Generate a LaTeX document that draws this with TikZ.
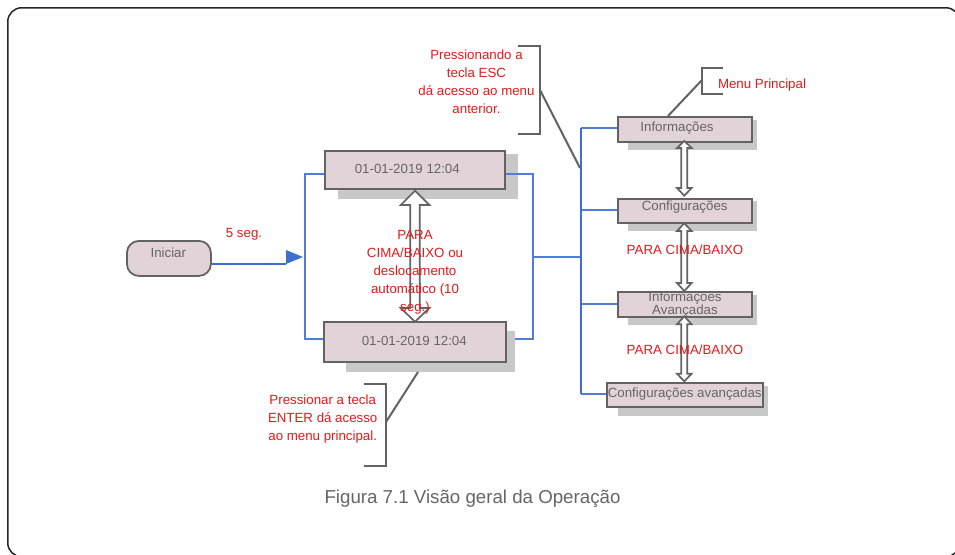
\documentclass[tikz,border=0pt]{standalone}
\usepackage{fontspec}
\setmainfont{Liberation Sans}
\definecolor{boxfill}{HTML}{E2D3D8}
\definecolor{boxline}{HTML}{636363}
\definecolor{shadowgrey}{HTML}{C8C8C8}
\definecolor{bluebus}{HTML}{3E6FD0}
\definecolor{bluethin}{HTML}{4F7DDA}
\definecolor{redtxt}{HTML}{E01B1B}
\definecolor{greytxt}{HTML}{666666}
\tikzset{
  x=1pt,y=-1pt,
  boxnode/.style={draw=boxline,fill=boxfill,line width=2pt,inner sep=0pt},
  shadownode/.style={fill=shadowgrey,inner sep=0pt},
  lbl/.style={text=greytxt,inner sep=0pt,font=\fontsize{13.3}{15}\selectfont},
  note/.style={text=redtxt,inner sep=0pt,align=center,font=\fontsize{13.3}{17.9}\selectfont},
  bus/.style={draw=bluethin,line width=2pt},
  busthick/.style={draw=bluebus,line width=2.6pt},
  leader/.style={draw=boxline,line width=2pt,line cap=butt},
  dblarrow/.style={draw=boxline,fill=white,line width=1.7pt,line join=miter},
}
% #1 centre x, #2 top tip y, #3 top head base y, #4 bottom head base y, #5 bottom tip y, #6 head half width, #7 shaft half width
\newcommand{\hollowarrow}[7]{%
  \draw[dblarrow] (#1,#2) -- (#1+#6,#3) -- (#1+#7,#3) -- (#1+#7,#4) -- (#1+#6,#4) -- (#1,#5) -- (#1-#6,#4) -- (#1-#7,#4) -- (#1-#7,#3) -- (#1-#6,#3) -- cycle;}
\newcommand{\boxat}[5]{% name, x1, y1, x2, y2
  \node[boxnode,minimum width={(#4-#2)*1pt},minimum height={(#5-#3)*1pt},anchor=north west] (#1) at (#2,#3) {};}
\newcommand{\shadowat}[5]{%
  \node[shadownode,minimum width={(#4-#2)*1pt},minimum height={(#5-#3)*1pt},anchor=north west] (#1) at (#2,#3) {};}
\begin{document}
\begin{tikzpicture}
\useasboundingbox (0,0) rectangle (955,554);
\fill[white] (0,0) rectangle (955,554);
% frame
\node[draw=black!85,line width=1.5pt,rounded corners=14pt,inner sep=0pt,minimum width=952pt,minimum height=549pt,anchor=north west] (frame) at (7,7) {};

% coordinates of the buses
\coordinate (lbusT) at (305,174);
\coordinate (lbusB) at (305,339);
\coordinate (rbusT) at (533,174);
\coordinate (rbusB) at (533,339);
\coordinate (rbusM) at (533,257);
\coordinate (mbusT) at (581,128);
\coordinate (mbusC) at (581,210);
\coordinate (mbusM) at (581,257);
\coordinate (mbusA) at (581,304);
\coordinate (mbusB) at (581,394);
\coordinate (arrowtip) at (303,257);
\coordinate (arrowend) at (286,264);

% shadows (top one and the menu boxes)
\shadowat{sTop}{338}{154}{518}{199}
\shadowat{sInfo}{628}{120}{757}{150}
\shadowat{sConf}{628}{201}{757}{231}
\shadowat{sAdvI}{628}{295}{757}{325}
\shadowat{sAdvC}{618}{386}{768}{416}

% boxes
\boxat{top}{324}{150}{504}{188}
\boxat{bot}{324}{322}{504}{360}
\boxat{info}{617}{116}{751}{141}
\boxat{conf}{617}{198}{751}{222}
\boxat{advi}{617}{291}{751}{316}
\boxat{advc}{606}{382}{762}{406}
\node[draw=boxline,fill=boxfill,line width=1.8pt,rounded corners=12pt,inner sep=0pt,minimum width=84pt,minimum height=35pt,anchor=north west] (start) at (126,240) {};

% buses
\draw[bus] (top.west |- lbusT) -- (lbusT) -- (lbusB) -- (bot.west |- lbusB);
\draw[bus] (top.east |- rbusT) -- (rbusT) -- (rbusB) -- (bot.east |- rbusB);
\draw[bus] (rbusM) -- (mbusM);
\draw[bus] (mbusT) -- (info.west |- mbusT);
\draw[bus] (mbusC) -- (conf.west |- mbusC);
\draw[bus] (mbusA) -- (advi.west |- mbusA);
\draw[bus] (mbusB) -- (advc.west |- mbusB);
\draw[busthick] (mbusT) -- (mbusB);

% shadow of lower box lies over the bus
\shadowat{sBot}{346}{331}{515}{372}
\draw[draw=boxline,fill=boxfill,line width=2pt] (bot.north west) rectangle (bot.south east);

% start arrow
\draw[draw=bluebus,line width=2.4pt] (start.east |- arrowend) -- (arrowend);
\fill[bluebus] (arrowtip) -- (286,250) -- (arrowend) -- cycle;

% hollow arrows
\hollowarrow{415}{190.7}{205}{308}{321.7}{14.3}{4.7}
\hollowarrow{684.3}{141}{148}{188}{195.7}{7.3}{3}
\hollowarrow{684.3}{223.3}{231}{283}{291}{7.3}{3}
\hollowarrow{684.3}{316.3}{324.3}{373.7}{381.3}{7.3}{3}

% leaders and brackets
\coordinate (escA) at (518,46); \coordinate (escB) at (540,46);
\coordinate (escC) at (540,134); \coordinate (escD) at (518,134);
\coordinate (escM) at (540,90); \coordinate (escE) at (580,168);
\draw[leader] (escA) -- (escB) -- (escC) -- (escD);
\draw[leader] (escM) -- (escE);
\coordinate (menA) at (723,68); \coordinate (menB) at (702,68);
\coordinate (menC) at (702,94); \coordinate (menD) at (723,94);
\coordinate (menM) at (702,80); \coordinate (menE) at (668,116);
\draw[leader] (menA) -- (menB) -- (menC) -- (menD);
\draw[leader] (menM) -- (menE);
\coordinate (entA) at (364,384); \coordinate (entB) at (386,384);
\coordinate (entC) at (386,466); \coordinate (entD) at (364,466);
\coordinate (entM) at (386,422); \coordinate (entE) at (418,372);
\draw[leader] (entA) -- (entB) -- (entC) -- (entD);
\draw[leader] (entM) -- (entE);

% box labels
\node[lbl] (tIni) at (168.3,253) {Iniciar};
\node[lbl] (tTop) at (407.3,169) {01-01-2019 12:04};
\node[lbl] (tBot) at (414.3,341) {01-01-2019 12:04};
\node[lbl] (tInfo) at (677,128) {Informações};
\node[lbl] (tConf) at (684.7,207) {Configurações};
\node[lbl,align=center,font=\fontsize{13.3}{10}\selectfont] (tAdvI) at (685,304.5) {Informações\\Avançadas};
\node[lbl] (tAdvC) at (684.7,394) {Configurações avançadas};

% red notes
\node[note] (n5) at (244,234.2) {5 seg.};
\node[note] (nPara) at (415,272.3) {PARA\\CIMA/BAIXO ou\\deslocamento\\automático (10\\seg.)};
\node[note] (nEsc) at (476.5,81.5) {Pressionando a\\tecla ESC\\dá acesso ao menu\\anterior.};
\node[note] (nEnt) at (322.7,419.2) {Pressionar a tecla\\ENTER dá acesso\\ao menu principal.};
\node[note] (nMenu) at (762,84.8) {Menu Principal};
\node[note] (nUp1) at (685,249.3) {PARA CIMA/BAIXO};
\node[note] (nUp2) at (685,350) {PARA CIMA/BAIXO};

% caption
\node[text=greytxt,inner sep=0pt,font=\fontsize{18.7}{20}\selectfont] (cap) at (472.5,499) {Figura 7.1 Visão geral da Operação};
\end{tikzpicture}
\end{document}
